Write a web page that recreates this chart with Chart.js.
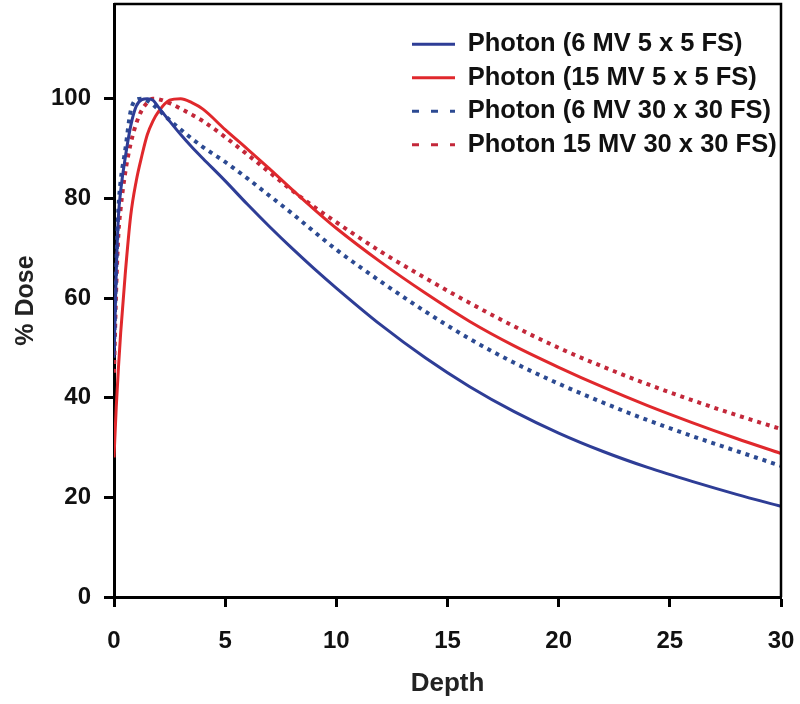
<!DOCTYPE html>
<html><head><meta charset="utf-8">
<script src="https://cdn.jsdelivr.net/npm/chart.js@4.4.1/dist/chart.umd.min.js"></script>
<style>html,body{margin:0;padding:0;background:#fff;}canvas{display:block;}</style>
</head><body>
<canvas id="c" width="800" height="704"></canvas>
<script>
const depth = [0, 0.1, 0.2, 0.3, 0.5, 0.75, 1, 1.25, 1.5, 1.75, 2, 2.5, 3, 3.5, 4, 5, 6, 7, 8, 9, 10, 12, 14, 16, 18, 20, 22, 24, 26, 28, 30];
const mv6_5x5 = [48, 65, 76.5, 81.5, 88, 94.5, 98.5, 99.8, 100, 99.7, 98.3, 95.5, 92.8, 90.3, 88, 83.5, 78.8, 74.3, 70, 65.9, 62, 54.6, 48, 42.2, 37.2, 32.9, 29.2, 26, 23.2, 20.6, 18.2];
const mv15_5x5 = [28, 38, 46, 53, 64.5, 76.5, 83.5, 88.5, 92.8, 95.5, 97.4, 99.7, 100, 99.2, 97.9, 93.8, 89.9, 85.9, 81.8, 77.8, 74, 67.2, 61, 55.3, 50.4, 46.1, 42.1, 38.4, 35, 31.8, 28.8];
const mv6_30x30 = [50, 66, 78, 83.5, 89.5, 97.5, 99.8, 100, 99.6, 98.8, 97.8, 95.7, 93.8, 92, 90.3, 87.3, 84, 80.5, 77, 73.3, 69.7, 63.3, 57.3, 51.8, 47, 42.8, 39, 35.5, 32.3, 29.3, 26.3];
const mv15_30x30 = [45, 62, 73, 78, 85, 91, 95, 97.7, 99.2, 100, 99.9, 99.1, 98, 96.8, 95.5, 92.3, 88.8, 85.2, 81.6, 78.3, 75.2, 69.3, 64, 59, 54.3, 50, 46.2, 42.7, 39.5, 36.5, 33.7];
const seriesLabels = ['Photon (6 MV 5 x 5 FS)', 'Photon (15 MV 5 x 5 FS)', 'Photon (6 MV 30 x 30 FS)', 'Photon 15 MV 30 x 30 FS)'];
const xTicks = [0, 5, 10, 15, 20, 25, 30];
const yTicks = [0, 20, 40, 60, 80, 100];

const FONT = '"Liberation Sans", Arial, Helvetica, sans-serif';
Chart.defaults.font.family = FONT;

function pts(arr) { return depth.map((d, i) => ({x: d, y: arr[i]})); }

const styles = [
  {color: '#2e3d96', dash: [], width: 3},
  {color: '#e0282c', dash: [], width: 3},
  {color: '#2c4a92', dash: [4, 5], width: 4},
  {color: '#c3283a', dash: [4, 5], width: 4}
];
const seriesData = [mv6_5x5, mv15_5x5, mv6_30x30, mv15_30x30];

const datasets = seriesData.map((arr, i) => ({
  label: seriesLabels[i],
  data: pts(arr),
  borderColor: styles[i].color,
  backgroundColor: styles[i].color,
  borderWidth: styles[i].width,
  borderDash: styles[i].dash,
  pointRadius: 0,
  fill: false,
  cubicInterpolationMode: 'monotone'
}));

const frame = {
  id: 'frame',
  afterDraw(chart) {
    const {ctx, chartArea: a} = chart;
    ctx.save();
    ctx.strokeStyle = '#000';
    ctx.lineWidth = 2.5;
    ctx.beginPath();
    ctx.moveTo(a.left, a.top);
    ctx.lineTo(a.right, a.top);
    ctx.lineTo(a.right, a.bottom);
    ctx.stroke();
    ctx.restore();
  }
};

// Legend drawn by Chart.js's own Legend element, placed inside the plot area.
function placeLegend(lg) {
  lg.update(800, 704, {left: 0, top: 0, right: 0, bottom: 0});
  const h = lg.height;
  lg.left = 404; lg.top = 23.5;
  lg.right = 800; lg.bottom = lg.top + h + 10;
  lg.width = lg.right - lg.left; lg.height = lg.bottom - lg.top;
}
const legendPlace = {
  id: 'legendPlace',
  beforeLayout(chart) {
    const lg = chart.legend;
    if (!lg) return;
    if (chart.boxes.includes(lg)) Chart.layouts.removeBox(chart, lg);
    placeLegend(lg);
  },
  afterDraw(chart) {
    const lg = chart.legend;
    if (!lg) return;
    placeLegend(lg);
    lg.draw();
  }
};

new Chart(document.getElementById('c'), {
  type: 'line',
  data: {datasets},
  plugins: [frame, legendPlace],
  options: {
    responsive: false,
    animation: false,
    layout: {padding: {left: 0, right: 19, top: 4, bottom: 0}},
    plugins: {
      tooltip: {enabled: false},
      legend: {
        display: true,
        position: 'right',
        align: 'start',
        labels: {
          usePointStyle: true,
          pointStyle: 'line',
          pointStyleWidth: 43,
          boxWidth: 43,
          boxHeight: 25.5,
          padding: 8,
          color: '#111',
          font: {size: 25.5, weight: 'bold', family: FONT},
          generateLabels(chart) {
            return chart.data.datasets.map((ds, i) => ({
              text: ds.label,
              fillStyle: ds.borderColor,
              strokeStyle: ds.borderColor,
              lineWidth: 3,
              lineDash: ds.borderDash.length ? [7, 12] : [],
              pointStyle: 'line',
              hidden: false,
              datasetIndex: i,
              fontColor: '#111'
            }));
          }
        }
      }
    },
    scales: {
      x: {
        type: 'linear',
        min: 0, max: 30,
        afterBuildTicks(s) { s.ticks = xTicks.map(v => ({value: v})); },
        afterFit(s) { s.height = 107; s.paddingLeft = 0; s.paddingRight = 0; },
        ticks: {color: '#111', padding: 20, font: {size: 24, weight: 'bold'}},
        grid: {drawOnChartArea: false, drawTicks: true, tickLength: 10, tickWidth: 3, tickColor: '#000'},
        border: {display: true, color: '#000', width: 3},
        title: {display: true, text: 'Depth', color: '#222', font: {size: 26, weight: 'bold'}, padding: {top: 0, bottom: 5}}
      },
      y: {
        type: 'linear',
        min: 0, max: 119,
        afterBuildTicks(s) { s.ticks = yTicks.map(v => ({value: v})); },
        afterFit(s) { s.width = 114; s.paddingTop = 0; s.paddingBottom = 0; },
        ticks: {color: '#111', padding: 13, font: {size: 24, weight: 'bold'}},
        grid: {drawOnChartArea: false, drawTicks: true, tickLength: 10, tickWidth: 3, tickColor: '#000'},
        border: {display: true, color: '#000', width: 3},
        title: {display: true, text: '% Dose', color: '#222', font: {size: 25, weight: 'bold'}, padding: {top: 11, bottom: 0}}
      }
    }
  }
});
</script>
</body></html>
